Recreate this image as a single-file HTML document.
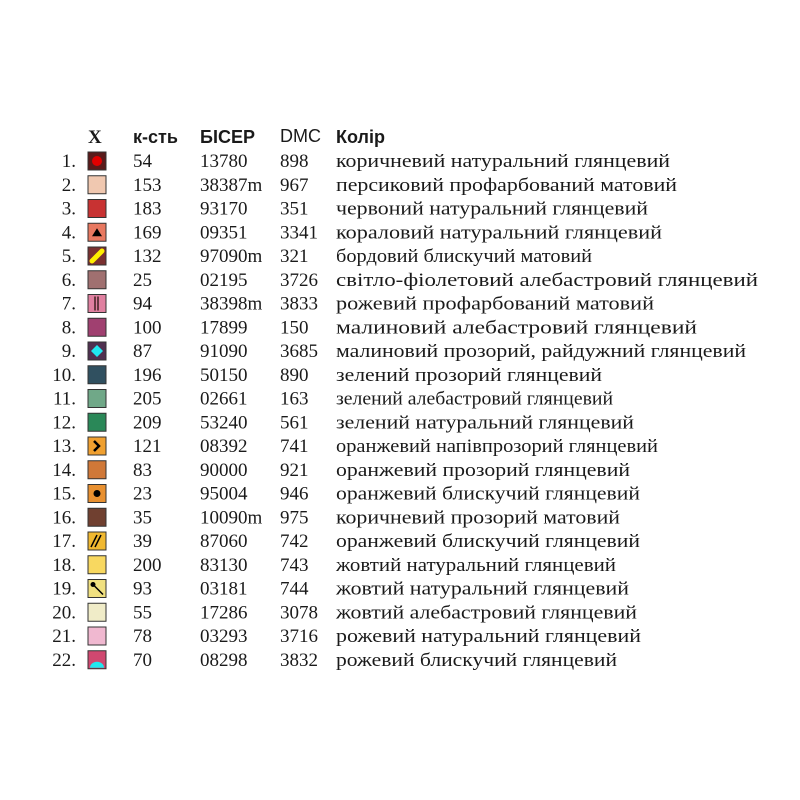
<!DOCTYPE html>
<html><head><meta charset="utf-8"><style>
body{margin:0;background:#fff;}
svg{display:block}
text{font-family:"Liberation Serif",serif;font-size:19px;fill:#1a1a1a}
.h{font-family:"Liberation Sans",sans-serif;font-weight:bold;font-size:18px}
</style></head><body>
<svg id="t" width="800" height="800">
<text class="h" x="88" y="143" style="font-family:'Liberation Serif',serif;font-size:19px">X</text>
<text class="h" x="133" y="143">к-сть</text>
<text class="h" x="200" y="143">БІСЕР</text>
<text class="h" x="280" y="142" style="font-weight:normal">DMC</text>
<text class="h" x="336" y="143">Колір</text>
</svg>
<script>
const qty=[54,153,183,169,132,25,94,100,87,196,205,209,121,83,23,35,39,200,93,55,78,70];
const bead=["13780","38387m","93170","09351","97090m","02195","38398m","17899","91090","50150","02661","53240","08392","90000","95004","10090m","87060","83130","03181","17286","03293","08298"];
const dmc=["898","967","351","3341","321","3726","3833","150","3685","890","163","561","741","921","946","975","742","743","744","3078","3716","3832"];
const names=["коричневий натуральний глянцевий","персиковий профарбований матовий","червоний натуральний глянцевий","кораловий  натуральний глянцевий","бордовий блискучий матовий","світло-фіолетовий алебастровий глянцевий","рожевий профарбований  матовий","малиновий алебастровий глянцевий","малиновий прозорий, райдужний глянцевий","зелений прозорий глянцевий","зелений алебастровий глянцевий","зелений натуральний глянцевий","оранжевий напівпрозорий глянцевий","оранжевий прозорий глянцевий","оранжевий блискучий глянцевий","коричневий прозорий матовий","оранжевий блискучий глянцевий","жовтий натуральний глянцевий","жовтий натуральний глянцевий","жовтий алебастровий глянцевий","рожевий натуральний глянцевий","рожевий блискучий глянцевий"];
const nameEnd=[670,677,648,662,592,758,654,697,746,602,613,634,658,630,640,620,640,616,629,637,641,617];
const fills=["#5a1a1a","#f0c8b0","#c83232","#e87860","#7a3030","#a07070","#e080a0","#a04070","#503050","#305060","#70a888","#2a8858","#f0a030","#d07838","#e89030","#704030","#f0b830","#f8d860","#f0e080","#f0ecc8","#f0b8d0","#d04870"];
const svg=document.getElementById('t');const NS='http://www.w3.org/2000/svg';
function mk(tag,a){const e=document.createElementNS(NS,tag);for(const k in a)e.setAttribute(k,a[k]);svg.appendChild(e);return e;}
const y0=161,dy=23.75;
for(let i=0;i<22;i++){
 const cy=y0+i*dy, by=cy+6;
 const n=mk('text',{x:76,y:by,'text-anchor':'end'});n.textContent=(i+1)+'.';
 
 
 const s=mk('rect',{x:88,y:cy-9,width:18,height:18,fill:fills[i],stroke:'#333','stroke-width':1});
 
 
 const cx=97;
 if(i==0)mk('circle',{cx:cx,cy:cy,r:5,fill:'#e00000'});
 if(i==3)mk('polygon',{points:`${cx-5},${cy+4} ${cx+5},${cy+4} ${cx},${cy-4}`,fill:'#000'});
 if(i==4)mk('line',{x1:cx-5,y1:cy+5,x2:cx+5,y2:cy-5,stroke:'#ffee00','stroke-width':5,'stroke-linecap':'round'});
 if(i==6){mk('line',{x1:cx-2,y1:cy-7,x2:cx-2,y2:cy+7,stroke:'#402020','stroke-width':1.5});mk('line',{x1:cx+1,y1:cy-7,x2:cx+1,y2:cy+7,stroke:'#402020','stroke-width':1.5});}
 if(i==8)mk('polygon',{points:`${cx},${cy-6} ${cx+6},${cy} ${cx},${cy+6} ${cx-6},${cy}`,fill:'#20e8f0'});
 if(i==12)mk('polyline',{points:`${cx-3},${cy-5} ${cx+2},${cy} ${cx-3},${cy+5}`,fill:'none',stroke:'#000','stroke-width':2.5});
 if(i==14)mk('circle',{cx:cx,cy:cy,r:3.5,fill:'#000'});
 if(i==16){mk('line',{x1:cx-6,y1:cy+6,x2:cx,y2:cy-6,stroke:'#000','stroke-width':1.5});mk('line',{x1:cx-2,y1:cy+6,x2:cx+4,y2:cy-6,stroke:'#000','stroke-width':1.5});}
 if(i==18){mk('circle',{cx:cx-4,cy:cy-4,r:2.5,fill:'#000'});mk('line',{x1:cx-4,y1:cy-4,x2:cx+6,y2:cy+6,stroke:'#000','stroke-width':1.5});}
 if(i==21)mk('path',{d:`M${cx-7},${cy+8} A7,6 0 0 1 ${cx+7},${cy+8} Z`,fill:'#20e8f0'});
 const q=mk('text',{x:133,y:by});q.textContent=qty[i];
 
 
 const b=mk('text',{x:200,y:by});b.textContent=bead[i];
 
 
 const d=mk('text',{x:280,y:by});d.textContent=dmc[i];
 
 
 const nm=mk('text',{x:336,y:by,textLength:nameEnd[i]-336,lengthAdjust:'spacingAndGlyphs'});nm.textContent=names[i];
 
 
}
</script>
</body></html>
